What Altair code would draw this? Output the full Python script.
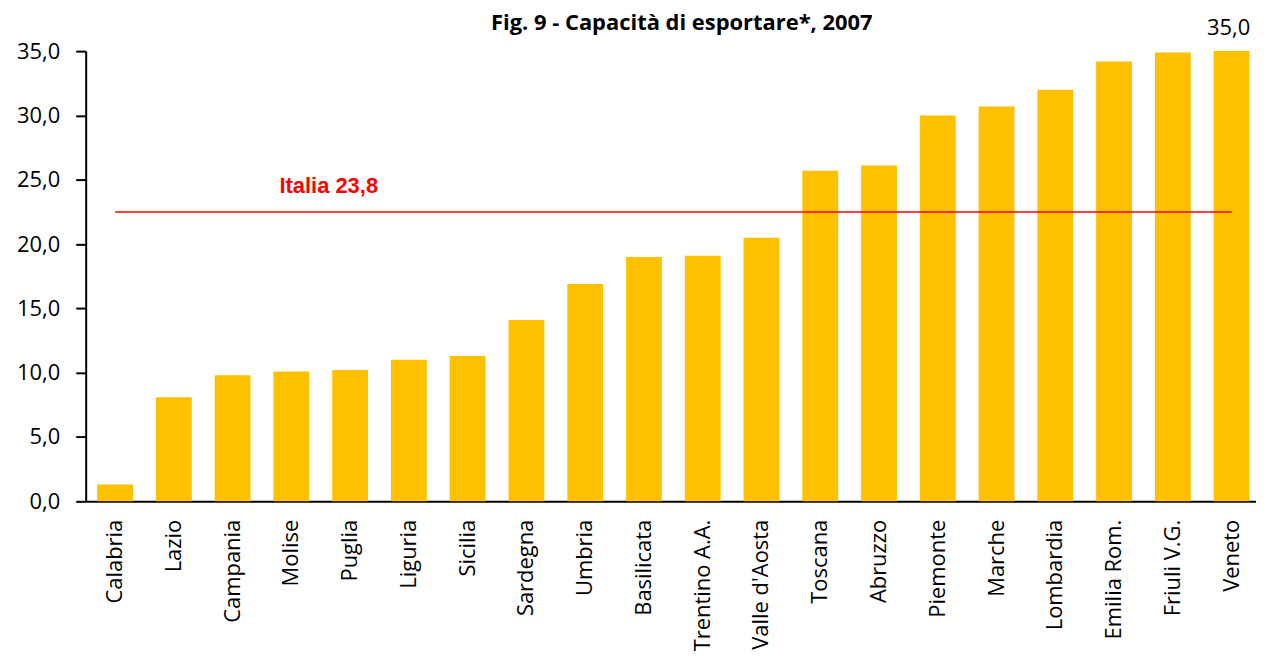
import altair as alt
import pandas as pd

regions = ["Calabria", "Lazio", "Campania", "Molise", "Puglia", "Liguria", "Sicilia",
           "Sardegna", "Umbria", "Basilicata", "Trentino A.A.", "Valle d'Aosta",
           "Toscana", "Abruzzo", "Piemonte", "Marche", "Lombardia", "Emilia Rom.",
           "Friuli V.G.", "Veneto"]
values = [1.3, 8.1, 9.8, 10.1, 10.2, 11.0, 11.3, 14.1, 16.9, 19.0, 19.1, 20.5,
          25.7, 26.1, 30.0, 30.7, 32.0, 34.2, 34.9, 35.0]
italia_line = 22.5
italia_label = "Italia 23,8"
italia_label_region = "Molise"
top_label = "35,0"

df = pd.DataFrame({"region": regions, "value": values})
line_df = pd.DataFrame({"start": [regions[0]], "end": [regions[-1]], "y": [italia_line]})
lab_df = pd.DataFrame({"region": [italia_label_region], "y": [italia_line], "text": [italia_label]})
top_df = pd.DataFrame({"region": [regions[-1]], "y": [values[-1]], "text": [top_label]})

xscale = alt.Scale(domain=regions, paddingInner=0.39, paddingOuter=0.1525, align=0.64)
yscale = alt.Scale(domain=[0, 35], nice=False)

x = alt.X("region:N", scale=xscale, sort=None, title=None,
          axis=alt.Axis(labelAngle=-90, labelAlign="right", labelBaseline="middle",
                        ticks=False, tickSize=0, labelPadding=18, labelFontSize=22,
                        labelFont="Open Sans", labelColor="#000000",
                        domainColor="#000000", domainWidth=2))
y = alt.Y("value:Q", scale=yscale, title=None,
          axis=alt.Axis(values=[0, 5, 10, 15, 20, 25, 30, 35],
                        labelExpr="replace(format(datum.value, '.1f'), '.', ',')",
                        tickSize=10, tickColor="#000000", tickWidth=2,
                        labelPadding=16, labelFontSize=22, labelFont="Open Sans",
                        labelColor="#000000", domainColor="#000000", domainWidth=2,
                        grid=False))

bars = alt.Chart(df).mark_bar(color="#FFC000").encode(x=x, y=y)

rule = alt.Chart(line_df).mark_rule(color="#FF0000", strokeWidth=1.5).encode(
    x=alt.X("start:N", scale=xscale, sort=None),
    x2="end:N",
    y=alt.Y("y:Q", scale=yscale),
)

lab = alt.Chart(lab_df).mark_text(color="#FF0000", fontWeight="bold", fontSize=22,
                                  font="Liberation Sans", align="left",
                                  baseline="alphabetic", dx=-12, dy=-19).encode(
    x=alt.X("region:N", scale=xscale, sort=None),
    y=alt.Y("y:Q", scale=yscale),
    text="text:N",
)

top = alt.Chart(top_df).mark_text(color="#000000", fontSize=22, font="Open Sans",
                                  baseline="alphabetic", dy=-16, dx=-3).encode(
    x=alt.X("region:N", scale=xscale, sort=None),
    y=alt.Y("y:Q", scale=yscale),
    text="text:N",
)

chart = alt.layer(bars, rule, lab, top).properties(
    width=1175, height=452,
    title=alt.TitleParams("Fig. 9 - Capacità di esportare*, 2007", font="Open Sans",
                          fontSize=22, fontWeight="bold", color="#000000",
                          anchor="middle", offset=-18, dx=11),
    autosize=alt.AutoSizeParams(type="none"),
    padding={"left": 78, "top": 42, "right": 0, "bottom": 150},
).configure_view(stroke=None)

chart.save("out.html", embed_options={"renderer": "svg", "actions": False})
